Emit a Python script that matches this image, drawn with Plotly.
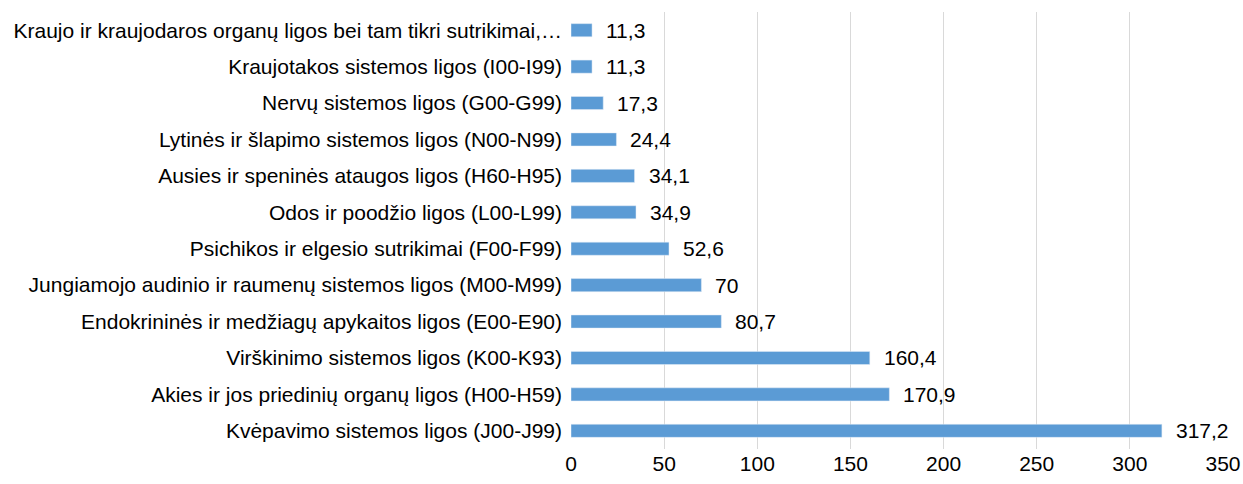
import plotly.graph_objects as go

categories = [
    "Kraujo ir kraujodaros organų ligos bei tam tikri sutrikimai,…",
    "Kraujotakos sistemos ligos (I00-I99)",
    "Nervų sistemos ligos (G00-G99)",
    "Lytinės ir šlapimo sistemos ligos (N00-N99)",
    "Ausies ir speninės ataugos ligos (H60-H95)",
    "Odos ir poodžio ligos (L00-L99)",
    "Psichikos ir elgesio sutrikimai (F00-F99)",
    "Jungiamojo audinio ir raumenų sistemos ligos (M00-M99)",
    "Endokrininės ir medžiagų apykaitos ligos (E00-E90)",
    "Virškinimo sistemos ligos (K00-K93)",
    "Akies ir jos priedinių organų ligos (H00-H59)",
    "Kvėpavimo sistemos ligos (J00-J99)",
]
values = [11.3, 11.3, 17.3, 24.4, 34.1, 34.9, 52.6, 70, 80.7, 160.4, 170.9, 317.2]
labels = [("%g" % v).replace(".", ",") for v in values]
x_ticks = [0, 50, 100, 150, 200, 250, 300, 350]

FS = 21

fig = go.Figure()
fig.add_trace(go.Bar(
    y=categories, x=values, orientation="h",
    marker=dict(color="#5B9BD5"),
    hoverinfo="x+y",
))
for c, v, t in zip(categories, values, labels):
    fig.add_annotation(x=v, y=c, text=t, showarrow=False, xanchor="left",
                       xshift=12, font=dict(size=FS, color="#000000"))

fig.update_layout(
    width=1243, height=484,
    margin=dict(l=571, r=20, t=12, b=35),
    paper_bgcolor="white", plot_bgcolor="white",
    bargap=0.64,
    showlegend=False,
    font=dict(family="Liberation Sans, Arial, sans-serif", size=FS, color="#000000"),
)
fig.update_xaxes(range=[0, 350], tickvals=x_ticks, showgrid=True, gridcolor="#D9D9D9",
                 gridwidth=1, zeroline=False, showline=False, ticks="",
                 tickfont=dict(size=FS), automargin=False, fixedrange=True)
fig.update_yaxes(categoryorder="array", categoryarray=categories,
                 range=[11.5, -0.5], showgrid=False, zeroline=False, showline=False,
                 ticks="", ticklabelstandoff=8, tickfont=dict(size=FS), automargin=False)

fig.write_html(
    "out.html",
    config={"displayModeBar": False},
    post_script="document.body.style.margin='0';document.body.style.overflow='hidden';",
)
